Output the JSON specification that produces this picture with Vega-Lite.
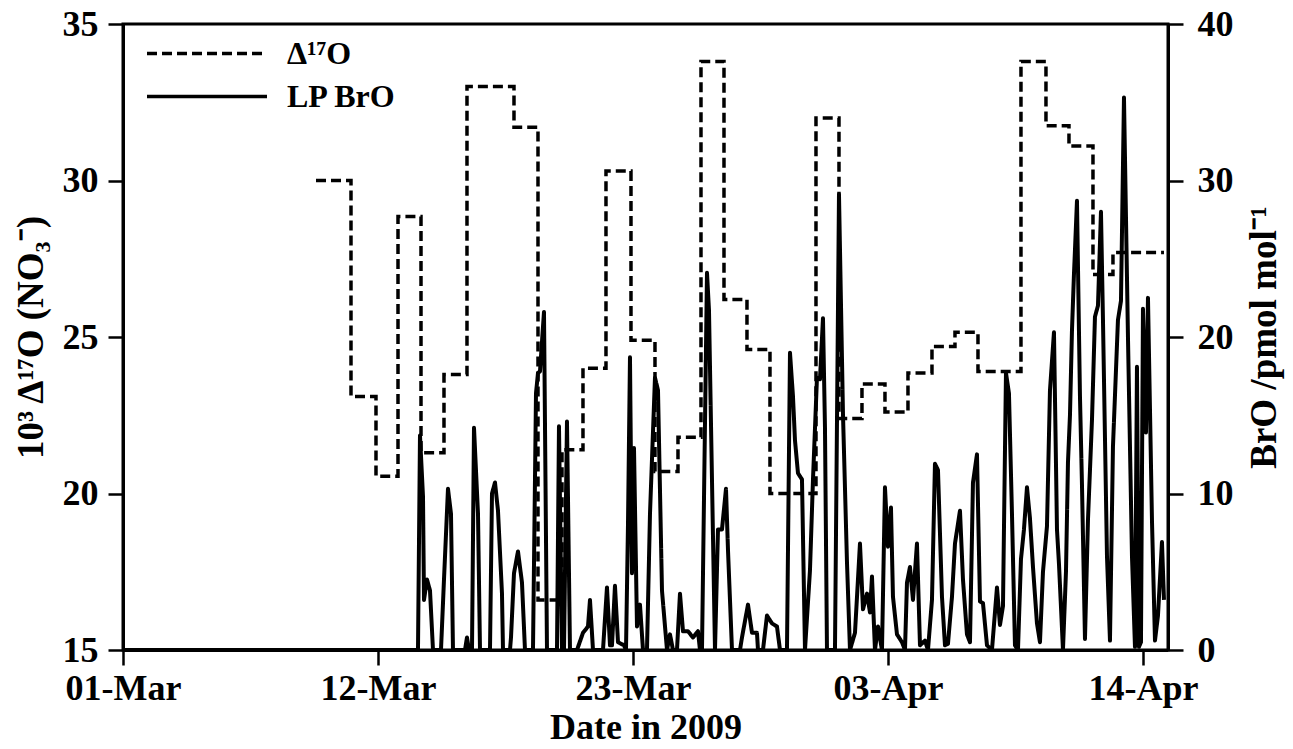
{
  "$schema": "https://vega.github.io/schema/vega-lite/v6.json",
  "width": 1045,
  "height": 626,
  "autosize": {"type": "none"},
  "padding": {"left": 123, "top": 24, "right": 125, "bottom": 99},
  "background": "#ffffff",
  "config": {
    "view": {"stroke": "#000000", "strokeWidth": 3},
    "axis": {
      "grid": false,
      "labelFont": "Liberation Serif",
      "labelFontWeight": "bold",
      "labelFontSize": 36,
      "labelColor": "#000000",
      "titleFont": "Liberation Serif",
      "titleFontWeight": "bold",
      "titleFontSize": 37,
      "titleColor": "#000000",
      "domainColor": "#000000",
      "domainWidth": 3,
      "tickColor": "#000000",
      "tickWidth": 2.5,
      "tickSize": 15
    },
    "legend": {
      "labelFont": "Liberation Serif",
      "labelFontWeight": "bold",
      "labelFontSize": 32,
      "labelColor": "#000000"
    }
  },
  "datasets": {
    "d17o": [
      {"t": "2009/03/09 07:50", "v": 30.0},
      {"t": "2009/03/10 20:04", "v": 23.1},
      {"t": "2009/03/11 21:57", "v": 20.55},
      {"t": "2009/03/12 20:44", "v": 28.85},
      {"t": "2009/03/13 20:33", "v": 21.3},
      {"t": "2009/03/14 20:21", "v": 23.8},
      {"t": "2009/03/15 20:10", "v": 33.0},
      {"t": "2009/03/17 20:50", "v": 31.7},
      {"t": "2009/03/18 21:41", "v": 16.6},
      {"t": "2009/03/19 22:32", "v": 21.4},
      {"t": "2009/03/20 20:16", "v": 24.0},
      {"t": "2009/03/21 20:05", "v": 30.3},
      {"t": "2009/03/22 21:58", "v": 24.9},
      {"t": "2009/03/23 22:49", "v": 20.7},
      {"t": "2009/03/24 22:38", "v": 21.8},
      {"t": "2009/03/25 22:27", "v": 33.8},
      {"t": "2009/03/26 22:16", "v": 26.2},
      {"t": "2009/03/27 22:04", "v": 24.6},
      {"t": "2009/03/28 21:53", "v": 20.0},
      {"t": "2009/03/30 21:31", "v": 32.0},
      {"t": "2009/03/31 21:20", "v": 22.4},
      {"t": "2009/04/01 21:08", "v": 23.5},
      {"t": "2009/04/02 20:57", "v": 22.6},
      {"t": "2009/04/03 20:46", "v": 23.85},
      {"t": "2009/04/04 21:37", "v": 24.7},
      {"t": "2009/04/05 21:26", "v": 25.15},
      {"t": "2009/04/06 21:15", "v": 23.9},
      {"t": "2009/04/08 17:46", "v": 33.8},
      {"t": "2009/04/09 19:39", "v": 31.75},
      {"t": "2009/04/10 19:28", "v": 31.1},
      {"t": "2009/04/11 20:19", "v": 27.0},
      {"t": "2009/04/12 17:01", "v": 27.7},
      {"t": "2009/04/14 21:50", "v": 27.7}
    ],
    "bro": [
      {"t": "2009/03/01 00:00", "v": 0},
      {"t": "2009/03/13 17:26", "v": 0},
      {"t": "2009/03/13 19:30", "v": 13.7},
      {"t": "2009/03/13 22:37", "v": 9.8},
      {"t": "2009/03/13 23:39", "v": 3.2},
      {"t": "2009/03/14 02:45", "v": 4.5},
      {"t": "2009/03/14 05:52", "v": 3.8},
      {"t": "2009/03/14 08:58", "v": 0},
      {"t": "2009/03/14 17:15", "v": 0},
      {"t": "2009/03/14 20:21", "v": 4.5},
      {"t": "2009/03/15 00:30", "v": 10.3},
      {"t": "2009/03/15 03:36", "v": 8.7},
      {"t": "2009/03/15 05:40", "v": 0},
      {"t": "2009/03/15 18:06", "v": 0},
      {"t": "2009/03/15 20:10", "v": 0.8},
      {"t": "2009/03/15 22:14", "v": 0},
      {"t": "2009/03/16 01:21", "v": 0},
      {"t": "2009/03/16 03:25", "v": 14.2},
      {"t": "2009/03/16 07:34", "v": 8.7},
      {"t": "2009/03/16 09:38", "v": 0},
      {"t": "2009/03/16 19:59", "v": 0},
      {"t": "2009/03/16 22:03", "v": 10.0},
      {"t": "2009/03/17 01:10", "v": 10.7},
      {"t": "2009/03/17 04:16", "v": 8.9},
      {"t": "2009/03/17 08:24", "v": 3.6},
      {"t": "2009/03/17 09:27", "v": 0},
      {"t": "2009/03/17 16:41", "v": 0},
      {"t": "2009/03/17 17:44", "v": 0.8},
      {"t": "2009/03/17 20:50", "v": 4.9},
      {"t": "2009/03/18 00:58", "v": 6.3},
      {"t": "2009/03/18 05:07", "v": 4.3},
      {"t": "2009/03/18 08:13", "v": 0},
      {"t": "2009/03/18 16:30", "v": 0},
      {"t": "2009/03/18 19:37", "v": 16.4},
      {"t": "2009/03/18 21:41", "v": 17.7},
      {"t": "2009/03/18 23:45", "v": 17.8},
      {"t": "2009/03/19 03:54", "v": 21.6},
      {"t": "2009/03/19 07:00", "v": 0},
      {"t": "2009/03/19 17:21", "v": 0},
      {"t": "2009/03/19 19:25", "v": 14.3},
      {"t": "2009/03/19 22:32", "v": 0},
      {"t": "2009/03/20 00:36", "v": 0},
      {"t": "2009/03/20 03:42", "v": 14.6},
      {"t": "2009/03/20 06:49", "v": 0},
      {"t": "2009/03/20 14:04", "v": 0},
      {"t": "2009/03/20 20:16", "v": 1.1},
      {"t": "2009/03/21 01:27", "v": 1.5},
      {"t": "2009/03/21 03:31", "v": 3.2},
      {"t": "2009/03/21 06:38", "v": 0},
      {"t": "2009/03/21 16:59", "v": 0},
      {"t": "2009/03/21 21:07", "v": 4.0},
      {"t": "2009/03/22 00:14", "v": 0.3},
      {"t": "2009/03/22 02:18", "v": 0.3},
      {"t": "2009/03/22 05:24", "v": 4.1},
      {"t": "2009/03/22 08:31", "v": 0.5},
      {"t": "2009/03/22 14:43", "v": 0.3},
      {"t": "2009/03/22 16:48", "v": 0},
      {"t": "2009/03/22 18:52", "v": 8.0},
      {"t": "2009/03/22 20:56", "v": 18.7},
      {"t": "2009/03/22 23:00", "v": 4.9},
      {"t": "2009/03/23 01:05", "v": 12.9},
      {"t": "2009/03/23 04:11", "v": 1.5},
      {"t": "2009/03/23 07:17", "v": 2.9},
      {"t": "2009/03/23 10:24", "v": 0},
      {"t": "2009/03/23 14:32", "v": 0},
      {"t": "2009/03/23 17:39", "v": 8.7},
      {"t": "2009/03/23 22:49", "v": 17.4},
      {"t": "2009/03/24 01:56", "v": 16.6},
      {"t": "2009/03/24 06:04", "v": 3.8},
      {"t": "2009/03/24 11:15", "v": 0},
      {"t": "2009/03/24 14:21", "v": 1.0},
      {"t": "2009/03/24 17:27", "v": 0},
      {"t": "2009/03/24 21:36", "v": 0},
      {"t": "2009/03/25 00:42", "v": 3.6},
      {"t": "2009/03/25 03:49", "v": 1.2},
      {"t": "2009/03/25 08:59", "v": 1.2},
      {"t": "2009/03/25 14:10", "v": 0.8},
      {"t": "2009/03/25 19:21", "v": 1.2},
      {"t": "2009/03/25 21:25", "v": 0},
      {"t": "2009/03/25 23:29", "v": 0},
      {"t": "2009/03/26 04:40", "v": 24.1},
      {"t": "2009/03/26 06:44", "v": 21.7},
      {"t": "2009/03/26 12:57", "v": 0},
      {"t": "2009/03/26 16:03", "v": 7.7},
      {"t": "2009/03/26 20:11", "v": 7.7},
      {"t": "2009/03/27 00:20", "v": 10.3},
      {"t": "2009/03/27 02:24", "v": 6.4},
      {"t": "2009/03/27 06:33", "v": 0},
      {"t": "2009/03/27 14:50", "v": 0},
      {"t": "2009/03/27 16:54", "v": 0.8},
      {"t": "2009/03/27 23:07", "v": 2.9},
      {"t": "2009/03/28 03:15", "v": 1.1},
      {"t": "2009/03/28 08:26", "v": 1.1},
      {"t": "2009/03/28 09:28", "v": 0},
      {"t": "2009/03/28 14:38", "v": 0},
      {"t": "2009/03/28 18:47", "v": 2.2},
      {"t": "2009/03/28 23:58", "v": 1.7},
      {"t": "2009/03/29 05:08", "v": 1.5},
      {"t": "2009/03/29 08:15", "v": 0},
      {"t": "2009/03/29 15:29", "v": 0},
      {"t": "2009/03/29 18:36", "v": 19.0},
      {"t": "2009/03/29 21:42", "v": 16.2},
      {"t": "2009/03/29 23:46", "v": 13.4},
      {"t": "2009/03/30 02:53", "v": 11.3},
      {"t": "2009/03/30 07:01", "v": 10.9},
      {"t": "2009/03/30 10:08", "v": 0},
      {"t": "2009/03/30 15:18", "v": 5.1},
      {"t": "2009/03/30 18:25", "v": 10.9},
      {"t": "2009/03/30 22:33", "v": 17.4},
      {"t": "2009/03/31 01:39", "v": 17.3},
      {"t": "2009/03/31 04:46", "v": 21.2},
      {"t": "2009/03/31 06:50", "v": 14.2},
      {"t": "2009/03/31 08:54", "v": 0},
      {"t": "2009/03/31 17:11", "v": 0},
      {"t": "2009/03/31 21:20", "v": 29.1},
      {"t": "2009/04/01 01:28", "v": 15.1},
      {"t": "2009/04/01 05:37", "v": 5.6},
      {"t": "2009/04/01 08:43", "v": 0},
      {"t": "2009/04/01 13:54", "v": 1.1},
      {"t": "2009/04/01 19:04", "v": 6.8},
      {"t": "2009/04/01 22:11", "v": 2.6},
      {"t": "2009/04/02 02:19", "v": 3.6},
      {"t": "2009/04/02 05:26", "v": 2.4},
      {"t": "2009/04/02 07:30", "v": 4.7},
      {"t": "2009/04/02 10:36", "v": 0},
      {"t": "2009/04/02 13:43", "v": 1.5},
      {"t": "2009/04/02 17:51", "v": 0},
      {"t": "2009/04/02 20:57", "v": 10.4},
      {"t": "2009/04/03 00:04", "v": 6.6},
      {"t": "2009/04/03 03:10", "v": 9.1},
      {"t": "2009/04/03 05:14", "v": 3.4},
      {"t": "2009/04/03 09:23", "v": 1.0},
      {"t": "2009/04/03 14:33", "v": 0.5},
      {"t": "2009/04/03 17:40", "v": 0},
      {"t": "2009/04/03 19:44", "v": 4.3},
      {"t": "2009/04/03 22:50", "v": 5.3},
      {"t": "2009/04/04 01:57", "v": 3.2},
      {"t": "2009/04/04 06:05", "v": 6.8},
      {"t": "2009/04/04 09:12", "v": 0.3},
      {"t": "2009/04/04 14:22", "v": 0.6},
      {"t": "2009/04/04 17:29", "v": 0},
      {"t": "2009/04/04 21:37", "v": 3.2},
      {"t": "2009/04/05 00:43", "v": 11.9},
      {"t": "2009/04/05 03:50", "v": 11.5},
      {"t": "2009/04/05 07:58", "v": 3.4},
      {"t": "2009/04/05 11:05", "v": 0.3},
      {"t": "2009/04/05 14:11", "v": 0.4},
      {"t": "2009/04/05 18:20", "v": 3.4},
      {"t": "2009/04/05 21:26", "v": 6.8},
      {"t": "2009/04/06 02:37", "v": 8.9},
      {"t": "2009/04/06 05:43", "v": 4.5},
      {"t": "2009/04/06 09:51", "v": 1.0},
      {"t": "2009/04/06 12:58", "v": 0.5},
      {"t": "2009/04/06 16:04", "v": 10.7},
      {"t": "2009/04/06 20:13", "v": 12.5},
      {"t": "2009/04/06 23:19", "v": 3.1},
      {"t": "2009/04/07 02:25", "v": 3.0},
      {"t": "2009/04/07 06:34", "v": 0.3},
      {"t": "2009/04/07 11:44", "v": 0},
      {"t": "2009/04/07 16:55", "v": 4.0},
      {"t": "2009/04/07 20:01", "v": 1.6},
      {"t": "2009/04/07 23:08", "v": 2.8},
      {"t": "2009/04/08 02:14", "v": 17.7},
      {"t": "2009/04/08 05:20", "v": 16.4},
      {"t": "2009/04/08 08:27", "v": 8.7},
      {"t": "2009/04/08 11:33", "v": 0.3},
      {"t": "2009/04/08 14:40", "v": 0},
      {"t": "2009/04/08 17:46", "v": 5.8},
      {"t": "2009/04/08 20:52", "v": 7.7},
      {"t": "2009/04/08 23:59", "v": 10.4},
      {"t": "2009/04/09 03:05", "v": 8.4},
      {"t": "2009/04/09 06:12", "v": 5.3},
      {"t": "2009/04/09 10:20", "v": 1.7},
      {"t": "2009/04/09 13:26", "v": 0.5},
      {"t": "2009/04/09 16:33", "v": 5.0},
      {"t": "2009/04/09 20:41", "v": 7.9},
      {"t": "2009/04/09 23:48", "v": 16.6},
      {"t": "2009/04/10 03:56", "v": 20.3},
      {"t": "2009/04/10 07:03", "v": 7.7},
      {"t": "2009/04/10 09:07", "v": 5.5},
      {"t": "2009/04/10 13:15", "v": 0},
      {"t": "2009/04/10 16:22", "v": 5.0},
      {"t": "2009/04/10 18:26", "v": 12.0},
      {"t": "2009/04/10 20:30", "v": 15.0},
      {"t": "2009/04/10 22:34", "v": 20.4},
      {"t": "2009/04/11 00:38", "v": 24.0},
      {"t": "2009/04/11 03:45", "v": 28.7},
      {"t": "2009/04/11 06:51", "v": 16.2},
      {"t": "2009/04/11 08:55", "v": 10.6},
      {"t": "2009/04/11 12:02", "v": 0.7},
      {"t": "2009/04/11 15:08", "v": 8.3},
      {"t": "2009/04/11 19:17", "v": 14.7},
      {"t": "2009/04/11 22:23", "v": 21.3},
      {"t": "2009/04/12 01:29", "v": 22.0},
      {"t": "2009/04/12 04:36", "v": 28.0},
      {"t": "2009/04/12 06:40", "v": 21.1},
      {"t": "2009/04/12 10:49", "v": 6.0},
      {"t": "2009/04/12 13:55", "v": 0.6},
      {"t": "2009/04/12 17:01", "v": 13.0},
      {"t": "2009/04/12 22:12", "v": 21.1},
      {"t": "2009/04/13 01:18", "v": 22.3},
      {"t": "2009/04/13 04:25", "v": 35.3},
      {"t": "2009/04/13 08:33", "v": 20.0},
      {"t": "2009/04/13 12:42", "v": 6.0},
      {"t": "2009/04/13 15:48", "v": 0.2},
      {"t": "2009/04/13 17:52", "v": 18.1},
      {"t": "2009/04/13 19:56", "v": 0.2},
      {"t": "2009/04/13 22:01", "v": 0.5},
      {"t": "2009/04/14 00:05", "v": 21.8},
      {"t": "2009/04/14 03:11", "v": 13.9},
      {"t": "2009/04/14 05:16", "v": 22.5},
      {"t": "2009/04/14 09:24", "v": 8.3},
      {"t": "2009/04/14 12:31", "v": 0.6},
      {"t": "2009/04/14 15:37", "v": 2.2},
      {"t": "2009/04/14 19:45", "v": 6.9},
      {"t": "2009/04/14 21:50", "v": 3.2}
    ]
  },
  "encoding": {
    "x": {
      "field": "t",
      "type": "temporal",
      "scale": {
        "domain": [
          {"year": 2009, "month": 3, "date": 1},
          {"year": 2009, "month": 4, "date": 15, "hours": 2}
        ]
      },
      "axis": {
        "title": "Date in 2009",
        "titleFontSize": 36,
        "format": "%d-%b",
        "values": [
          {"year": 2009, "month": 3, "date": 1},
          {"year": 2009, "month": 3, "date": 12},
          {"year": 2009, "month": 3, "date": 23},
          {"year": 2009, "month": 4, "date": 3},
          {"year": 2009, "month": 4, "date": 14}
        ],
        "labelFlush": false,
        "labelPadding": 6,
        "titlePadding": 4
      }
    }
  },
  "layer": [
    {
      "data": {"name": "d17o"},
      "mark": {
        "type": "line",
        "interpolate": "step-after",
        "color": "#000000",
        "strokeWidth": 3.5
      },
      "encoding": {
        "y": {
          "field": "v",
          "type": "quantitative",
          "scale": {"domain": [15, 35], "nice": false, "zero": false},
          "axis": {
            "orient": "left",
            "title": "10³ Δ¹⁷O (NO₃⁻)",
            "values": [15, 20, 25, 30, 35],
            "labelPadding": 10,
            "titlePadding": 12
          }
        },
        "strokeDash": {
          "datum": "Δ¹⁷O",
          "scale": {
            "domain": ["Δ¹⁷O", "LP BrO"],
            "range": [[10, 5], [1, 0]]
          },
          "legend": {
            "title": null,
            "orient": "none",
            "legendX": 22,
            "legendY": 9,
            "clipHeight": 41,
            "rowPadding": 2,
            "symbolType": "stroke",
            "symbolSize": 14400,
            "symbolStrokeWidth": 3.5,
            "symbolStrokeColor": "#000000",
            "labelOffset": 18
          }
        }
      }
    },
    {
      "data": {"name": "bro"},
      "mark": {
        "type": "line",
        "color": "#000000",
        "strokeWidth": 4,
        "strokeJoin": "round"
      },
      "encoding": {
        "y": {
          "field": "v",
          "type": "quantitative",
          "scale": {"domain": [0, 40], "nice": false},
          "axis": {
            "orient": "right",
            "title": "BrO /pmol mol⁻¹",
            "values": [0, 10, 20, 30, 40],
            "labelPadding": 14,
            "titleAngle": 270,
            "titlePadding": 50
          }
        },
        "strokeDash": {"datum": "LP BrO"}
      }
    }
  ],
  "resolve": {"scale": {"y": "independent"}}
}
